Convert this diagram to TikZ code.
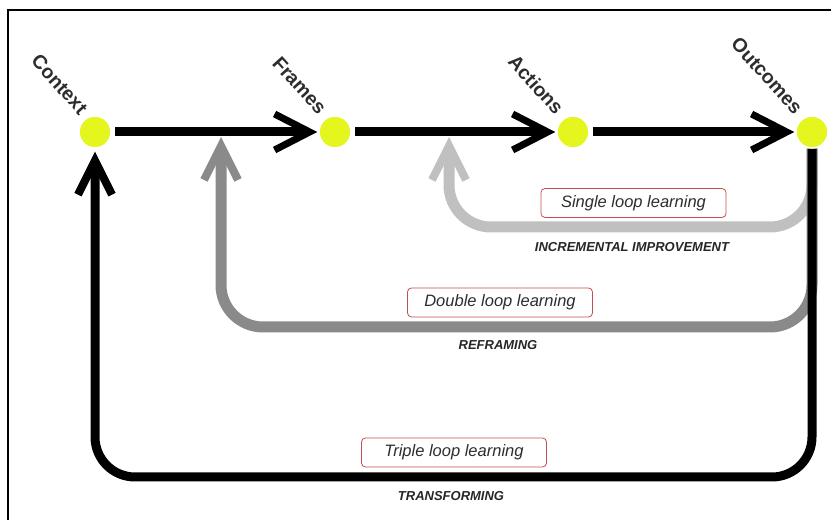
\documentclass[tikz,border=0pt]{standalone}
\usepackage{fontspec}
\setmainfont{Liberation Sans}
\usetikzlibrary{arrows.meta,calc,backgrounds}
\definecolor{dotyellow}{RGB}{228,246,30}
\definecolor{loopone}{RGB}{192,192,192}
\definecolor{looptwo}{RGB}{138,138,138}
\definecolor{boxred}{RGB}{192,80,77}
\definecolor{inkgray}{RGB}{45,45,45}
\begin{document}
\begin{tikzpicture}[x=1pt,y=1pt,
  stage/.style={circle,fill=dotyellow,draw=white,line width=1.5pt,minimum size=32pt,inner sep=0pt},
  stagelabel/.style={font=\fontsize{19.5}{22}\selectfont\bfseries,text=inkgray,rotate=-48,anchor=base east,inner sep=0pt},
  flow/.style={line width=9pt,shorten <=3pt,shorten >=1pt,-{Straight Barb[length=35pt,width=36pt,line width=7pt]}},
  loopline/.style={rounded corners=42pt,-{Straight Barb[length=34pt,width=34pt,line width=8pt]}},
  labelbox/.style={draw=boxred,line width=0.8pt,fill=white,rounded corners=4pt,minimum width=185pt,minimum height=29pt,inner sep=0pt,font=\fontsize{16.5}{19}\selectfont\itshape,text=inkgray},
  caption/.style={font=\fontsize{13}{15}\selectfont\bfseries\itshape,text=black!85,inner sep=0pt}
]
\useasboundingbox (0,0) rectangle (831,520);
% outer frame (top and left edges)
\draw[line width=2pt] (8,0) -- (8,510) -- (831,510);

% the four stages
\node[stage] (ctx) at (95,388) {};
\node[stage] (frm) at (335,388) {};
\node[stage] (act) at (573,388) {};
\node[stage] (out) at (812,388) {};

\node[stagelabel] (ctxl) at ($(ctx)+(-16,16)$) {Context};
\node[stagelabel] (frml) at ($(frm)+(-17,16)$) {Frames};
\node[stagelabel] (actl) at ($(act)+(-18,16)$) {Actions};
\node[stagelabel] (outl) at ($(out)+(-18,16)$) {Outcomes};

% where the feedback loops re-enter the main line
\coordinate (sgtip) at (449,383);
\coordinate (dbtip) at (221,383);

\begin{pgfonlayer}{background}
  % feedback loops
  \draw[loopline,loopone,line width=11pt] (out.south) |- (sgtip |- 0,293) -- (sgtip);
  \draw[loopline,looptwo,line width=11pt] (out.south) |- (dbtip |- 0,193) -- (dbtip);
  \draw[loopline,black,line width=9pt,shorten >=3pt,rounded corners=40pt] (out.south) |- (ctx.south |- 0,43) -- (ctx.south);
  % main sequence
  \draw[flow] (ctx) -- (frm);
  \draw[flow] (frm) -- (act);
  \draw[flow] (act) -- (out);
\end{pgfonlayer}

% loop labels
\node[labelbox] (single) at (633.5,317) {Single loop learning};
\node[labelbox] (double) at (500,217.5) {Double loop learning};
\node[labelbox] (triple) at (454,67.5) {Triple loop learning};

\node[caption] (inc) at (632,273) {INCREMENTAL IMPROVEMENT};
\node[caption] (refr) at (498,175) {REFRAMING};
\node[caption] (trans) at (451,24) {TRANSFORMING};
\end{tikzpicture}
\end{document}
